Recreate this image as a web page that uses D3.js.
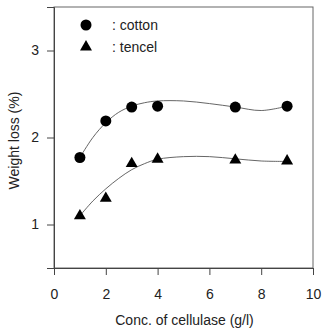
<!DOCTYPE html>
<html>
<head>
<meta charset="utf-8">
<script src="https://cdn.jsdelivr.net/npm/d3@7"></script>
<style>
  html, body { margin: 0; padding: 0; background: #fff; }
  svg { display: block; font-family: "Liberation Sans", Arial, sans-serif; }
</style>
</head>
<body>
<svg id="chart" width="322" height="331"></svg>
<script>
// Measured weight loss vs. enzyme concentration
const concentration = [1, 2, 3, 4, 7, 9];
const cottonLoss = [1.77, 2.19, 2.35, 2.36, 2.35, 2.36];
const tencelLoss = [1.10, 1.30, 1.70, 1.75, 1.74, 1.73];

// Fitted trend lines
const fitX = [1, 1.5, 2, 2.5, 3, 3.5, 4, 5, 6, 7, 8, 9];
const cottonFit = [1.77, 2.00, 2.17, 2.29, 2.36, 2.40, 2.42, 2.42, 2.39, 2.35, 2.31, 2.36];
const tencelFit = [1.10, 1.27, 1.41, 1.53, 1.63, 1.70, 1.75, 1.78, 1.78, 1.755, 1.73, 1.725];

const xTicks = [0, 2, 4, 6, 8, 10];
const yTicks = [1, 2, 3];

const svg = d3.select("#chart");
const plotL = 54, plotR = 313, plotT = 7, plotB = 268;
const fontSize = "14px";

const x = d3.scaleLinear().domain([0, 10]).range([plotL, plotR]);
const y = d3.scaleLinear().domain([0.5, 3.5]).range([plotB, plotT]);

const axisColor = "#444";

// frame
svg.append("rect")
  .attr("x", plotL).attr("y", plotT)
  .attr("width", plotR - plotL).attr("height", plotB - plotT)
  .attr("fill", "none").attr("stroke", "#666").attr("stroke-width", 1);

// x axis
const gx = svg.append("g").attr("transform", `translate(0,${plotB})`)
  .call(d3.axisBottom(x).tickValues(xTicks).tickSize(7).tickPadding(14).tickFormat(d3.format("d")));
gx.select(".domain").attr("stroke", axisColor);
gx.selectAll(".tick line").attr("stroke", axisColor);
gx.selectAll(".tick text").attr("fill", "#222").style("font-size", fontSize)
  .style("font-family", "Liberation Sans, Arial, sans-serif");

// y axis
const gy = svg.append("g").attr("transform", `translate(${plotL},0)`)
  .call(d3.axisLeft(y).tickValues(yTicks).tickSize(7).tickPadding(8).tickFormat(d3.format("d")));
gy.select(".domain").attr("stroke", axisColor);
gy.selectAll(".tick line").attr("stroke", axisColor);
gy.selectAll(".tick text").attr("fill", "#222").style("font-size", fontSize)
  .style("font-family", "Liberation Sans, Arial, sans-serif");

// axis titles
svg.append("text")
  .attr("x", (plotL + plotR) / 2 + 1).attr("y", 325)
  .attr("text-anchor", "middle").attr("fill", "#222")
  .style("font-size", fontSize)
  .text("Conc. of cellulase (g/l)");

svg.append("text")
  .attr("transform", `translate(19,${(plotT + plotB) / 2 + 3}) rotate(-90)`)
  .attr("text-anchor", "middle").attr("fill", "#222")
  .style("font-size", fontSize)
  .text("Weight loss (%)");

// fitted curves
const line = d3.line().x(d => x(d[0])).y(d => y(d[1])).curve(d3.curveCatmullRom.alpha(0.5));
[cottonFit, tencelFit].forEach(fit => {
  svg.append("path")
    .attr("d", line(fitX.map((v, i) => [v, fit[i]])))
    .attr("fill", "none").attr("stroke", "#555").attr("stroke-width", 0.9);
});

// markers
const circleSym = d3.symbol().type(d3.symbolCircle).size(95);
const triSym = d3.symbol().type(d3.symbolTriangle).size(62);

svg.append("g").selectAll("path")
  .data(concentration.map((c, i) => [c, cottonLoss[i]]))
  .join("path")
  .attr("d", circleSym)
  .attr("transform", d => `translate(${x(d[0])},${y(d[1])})`)
  .attr("fill", "#000");

svg.append("g").selectAll("path")
  .data(concentration.map((c, i) => [c, tencelLoss[i]]))
  .join("path")
  .attr("d", triSym)
  .attr("transform", d => `translate(${x(d[0])},${y(d[1])})`)
  .attr("fill", "#000");

// legend
const legend = [
  { label: ": cotton", sym: circleSym, yPos: 25 },
  { label: ": tencel", sym: triSym, yPos: 47 }
];
legend.forEach(item => {
  svg.append("path").attr("d", item.sym)
    .attr("transform", `translate(86,${item.yPos})`).attr("fill", "#000");
  svg.append("text")
    .attr("x", 112).attr("y", item.yPos + 5)
    .attr("fill", "#222").style("font-size", fontSize)
    .text(item.label);
});
</script>
</body>
</html>
